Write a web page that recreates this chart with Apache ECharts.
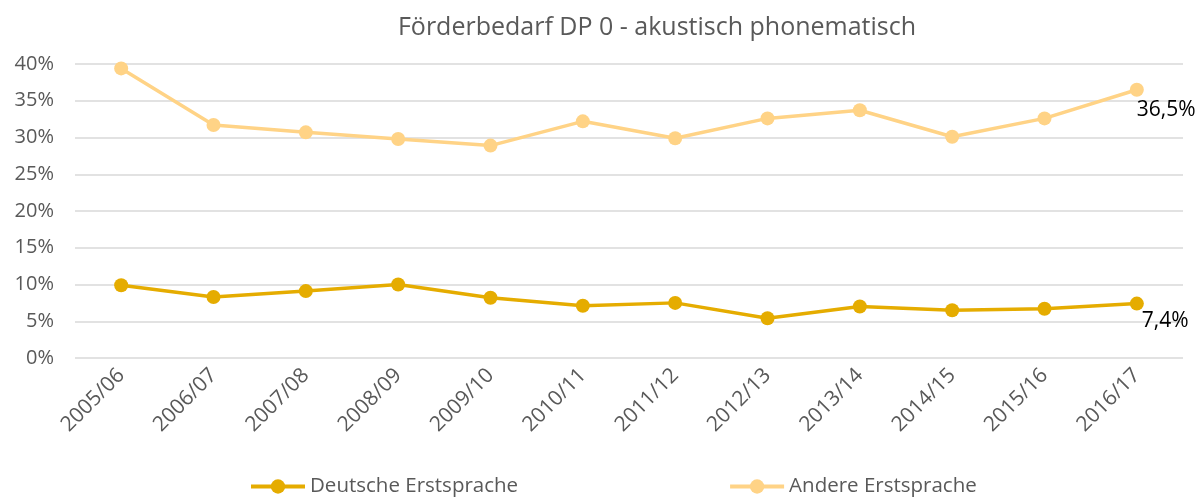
<!DOCTYPE html>
<html>
<head>
<meta charset="utf-8">
<script src="https://cdn.jsdelivr.net/npm/echarts@6/dist/echarts.min.js"></script>
<style>
  html, body { margin: 0; padding: 0; background: #fff; }
  #chart { width: 1204px; height: 497px; }
</style>
</head>
<body>
<div id="chart"></div>
<script>
const years = ['2005/06', '2006/07', '2007/08', '2008/09', '2009/10', '2010/11',
    '2011/12', '2012/13', '2013/14', '2014/15', '2015/16', '2016/17'];
const deutsche = [9.9, 8.3, 9.1, 10.0, 8.2, 7.1, 7.5, 5.4, 7.0, 6.5, 6.7, 7.4];
const andere = [39.4, 31.7, 30.7, 29.8, 28.9, 32.2, 29.9, 32.6, 33.7, 30.1, 32.6, 36.5];
const yTicks = [0, 5, 10, 15, 20, 25, 30, 35, 40];

const font = '"Open Sans", sans-serif';
const grey = '#595959';

// letztes Jahr bekommt ein Datenlabel
function withLastLabel(values, offset) {
    return values.map((v, i) => i === values.length - 1 ? {
        value: v,
        label: {
            show: true,
            position: offset,
            formatter: p => p.value.toFixed(1).replace('.', ',') + '%',
            color: '#000',
            fontSize: 21,
            fontFamily: font
        }
    } : v);
}

const chart = echarts.init(document.getElementById('chart'));
chart.setOption({
    backgroundColor: '#FFFFFF',
    animation: false,
    title: {
        text: 'Förderbedarf DP 0 - akustisch phonematisch',
        left: 652,
        textAlign: 'center',
        top: 10,
        textStyle: { fontSize: 25, fontWeight: 'normal', color: grey, fontFamily: font }
    },
    legend: {
        top: 471,
        left: 244,
        itemGap: 210,
        itemWidth: 54,
        itemHeight: 18,
        lineStyle: { width: 4 },
        textStyle: { fontSize: 20.5, color: grey, fontFamily: font },
        data: ['Deutsche Erstsprache', 'Andere Erstsprache']
    },
    grid: { left: 75, right: 21, top: 64, bottom: 139, containLabel: false },
    xAxis: {
        type: 'category',
        data: years,
        boundaryGap: true,
        axisLine: { show: false },
        axisTick: { show: false },
        axisLabel: {
            rotate: 45,
            interval: 0,
            margin: 14,
            fontSize: 21,
            color: grey,
            fontFamily: font
        }
    },
    yAxis: {
        type: 'value',
        min: yTicks[0],
        max: yTicks[yTicks.length - 1],
        interval: 5,
        axisLine: { show: false },
        axisTick: { show: false },
        splitLine: { lineStyle: { color: '#D9D9D9', width: 1.5 } },
        axisLabel: {
            formatter: '{value}%',
            fontSize: 20,
            color: grey,
            margin: 21,
            fontFamily: font
        }
    },
    series: [
        {
            name: 'Deutsche Erstsprache',
            type: 'line',
            data: withLastLabel(deutsche, [12, 14]),
            symbol: 'circle',
            symbolSize: 14,
            lineStyle: { color: '#E5AC00', width: 3.5 },
            itemStyle: { color: '#E5AC00' }
        },
        {
            name: 'Andere Erstsprache',
            type: 'line',
            data: withLastLabel(andere, [7, 17]),
            symbol: 'circle',
            symbolSize: 14,
            lineStyle: { color: '#FFD386', width: 3.5 },
            itemStyle: { color: '#FFD386' }
        }
    ]
});
</script>
</body>
</html>
